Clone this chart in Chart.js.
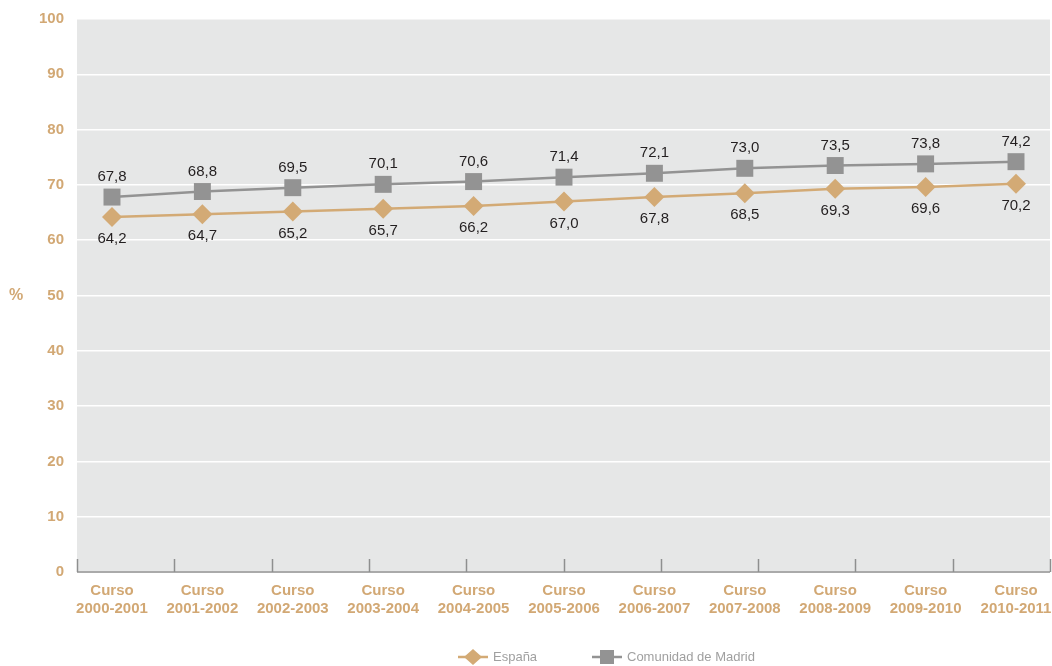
<!DOCTYPE html>
<html>
<head>
<meta charset="utf-8">
<script src="https://cdn.jsdelivr.net/npm/chart.js@4/dist/chart.umd.min.js"></script>
<style>
  html, body { margin: 0; padding: 0; background: #ffffff; }
  #wrap { width: 1052px; height: 666px; }
</style>
</head>
<body>
<div id="wrap"><canvas id="c" width="1052" height="666"></canvas></div>
<script>
const categories = ['Curso 2000-2001','Curso 2001-2002','Curso 2002-2003','Curso 2003-2004','Curso 2004-2005','Curso 2005-2006','Curso 2006-2007','Curso 2007-2008','Curso 2008-2009','Curso 2009-2010','Curso 2010-2011'];
const espana = [64.2, 64.7, 65.2, 65.7, 66.2, 67.0, 67.8, 68.5, 69.3, 69.6, 70.2];
const madrid = [67.8, 68.8, 69.5, 70.1, 70.6, 71.4, 72.1, 73.0, 73.5, 73.8, 74.2];
const seriesNames = ['España', 'Comunidad de Madrid'];
const yTicks = [0, 10, 20, 30, 40, 50, 60, 70, 80, 90, 100];

const TAN = '#d3aa75';
const GRAY = '#939393';
const TAN_TEXT = '#d2a874';
const FONT = '"Liberation Sans", Arial, Helvetica, sans-serif';

const fmt = v => v.toFixed(1).replace('.', ',');

const bgPlugin = {
  id: 'bg',
  beforeDraw(chart) {
    const {ctx, chartArea: a} = chart;
    ctx.save();
    ctx.fillStyle = '#e6e7e7';
    ctx.fillRect(a.left, a.top, a.right - a.left, a.bottom - a.top);
    ctx.restore();
  },
  beforeDatasetsDraw(chart) {
    const {ctx, chartArea: a} = chart;
    ctx.save();
    ctx.strokeStyle = '#8e8f8f';
    ctx.lineWidth = 1.5;
    ctx.beginPath();
    ctx.moveTo(a.left, a.bottom);
    ctx.lineTo(a.right, a.bottom);
    const n = categories.length - 1;
    for (let k = 0; k <= n; k++) {
      const x = Math.round(a.left + k * (a.right - a.left) / n) + 0.5;
      ctx.moveTo(x, a.bottom);
      ctx.lineTo(x, a.bottom - 13);
    }
    ctx.stroke();
    ctx.fillStyle = TAN_TEXT;
    ctx.font = 'bold 16px ' + FONT;
    ctx.textAlign = 'center';
    ctx.textBaseline = 'middle';
    const y50 = chart.scales.y.getPixelForValue(50);
    ctx.fillText('%', 16, y50);
    ctx.restore();
  }
};

const labelPlugin = {
  id: 'vlabels',
  afterDatasetsDraw(chart) {
    const {ctx} = chart;
    ctx.save();
    ctx.font = '15px ' + FONT;
    ctx.fillStyle = '#231f20';
    ctx.textAlign = 'center';
    ctx.textBaseline = 'middle';
    chart.data.datasets.forEach((ds, di) => {
      const meta = chart.getDatasetMeta(di);
      meta.data.forEach((pt, i) => {
        const off = di === 0 ? 22 : -20;
        ctx.fillText(fmt(ds.data[i].y), pt.x, pt.y + off);
      });
    });
    ctx.restore();
  }
};

const legendPlugin = {
  id: 'customLegend',
  afterDraw(chart) {
    const {ctx} = chart;
    const y = 657;
    const items = [
      {cx: 473, color: TAN, style: 'diamond', text: seriesNames[0]},
      {cx: 607, color: GRAY, style: 'square', text: seriesNames[1]}
    ];
    ctx.save();
    items.forEach(it => {
      ctx.strokeStyle = it.color;
      ctx.lineWidth = 2.5;
      ctx.beginPath();
      ctx.moveTo(it.cx - 15, y);
      ctx.lineTo(it.cx + 15, y);
      ctx.stroke();
      ctx.fillStyle = it.color;
      ctx.beginPath();
      if (it.style === 'diamond') {
        ctx.moveTo(it.cx, y - 8);
        ctx.lineTo(it.cx + 9, y);
        ctx.lineTo(it.cx, y + 8);
        ctx.lineTo(it.cx - 9, y);
        ctx.closePath();
      } else {
        ctx.rect(it.cx - 7, y - 7, 14, 14);
      }
      ctx.fill();
      ctx.fillStyle = '#a0a0a0';
      ctx.font = '13px ' + FONT;
      ctx.textAlign = 'left';
      ctx.textBaseline = 'middle';
      ctx.fillText(it.text, it.cx + 20, y);
    });
    ctx.restore();
  }
};

const toPoints = arr => arr.map((v, i) => ({x: i, y: v}));

new Chart(document.getElementById('c'), {
  type: 'line',
  data: {
    datasets: [
      {
        label: seriesNames[0],
        data: toPoints(espana),
        borderColor: TAN,
        backgroundColor: TAN,
        borderWidth: 2.5,
        pointStyle: 'rectRot',
        pointRadius: 10,
        pointHoverRadius: 10,
        pointBorderWidth: 0,
        tension: 0,
        clip: false
      },
      {
        label: seriesNames[1],
        data: toPoints(madrid),
        borderColor: GRAY,
        backgroundColor: GRAY,
        borderWidth: 2.5,
        pointStyle: 'rect',
        pointRadius: 12,
        pointHoverRadius: 12,
        pointBorderWidth: 0,
        tension: 0,
        clip: false
      }
    ]
  },
  options: {
    responsive: false,
    animation: false,
    events: [],
    layout: { autoPadding: false, padding: { top: 19, right: 2, left: 0, bottom: 0 } },
    plugins: {
      legend: { display: false },
      tooltip: { enabled: false }
    },
    scales: {
      x: {
        type: 'linear',
        min: -0.387,
        max: 10.376,
        afterBuildTicks(scale) {
          scale.ticks = categories.map((c, i) => ({value: i}));
        },
        afterFit(scale) {
          scale.height = 94;
          scale.paddingLeft = 0;
          scale.paddingRight = 0;
        },
        grid: { display: false, drawTicks: false },
        border: { display: false },
        ticks: {
          autoSkip: false,
          maxRotation: 0,
          padding: 9,
          color: TAN_TEXT,
          font: { family: FONT, size: 15, weight: 'bold', lineHeight: 1.25 },
          callback(value) {
            const c = categories[value];
            if (!c) return '';
            const sp = c.indexOf(' ');
            return [c.slice(0, sp), c.slice(sp + 1)];
          }
        }
      },
      y: {
        min: 0,
        max: 100,
        afterBuildTicks(scale) {
          scale.ticks = yTicks.map(v => ({value: v}));
        },
        afterFit(scale) {
          scale.width = 77;
          scale.paddingTop = 0;
          scale.paddingBottom = 0;
        },
        grid: { color: '#ffffff', lineWidth: 1.5, drawTicks: false },
        border: { display: false },
        ticks: {
          padding: 13,
          color: TAN_TEXT,
          font: { family: FONT, size: 15, weight: 'bold' }
        }
      }
    }
  },
  plugins: [bgPlugin, labelPlugin, legendPlugin]
});
</script>
</body>
</html>
